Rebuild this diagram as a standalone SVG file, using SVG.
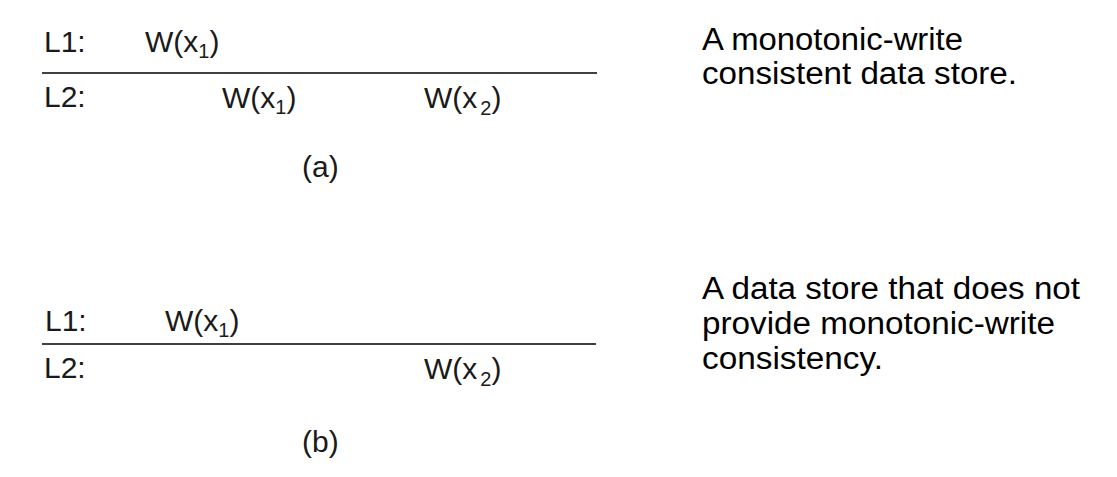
<svg xmlns="http://www.w3.org/2000/svg" width="1117" height="477" viewBox="0 0 1117 477">
<style>
.t{font-family:"Liberation Sans",Arial,sans-serif;font-size:30px;fill:#1a1a1a}
.s{font-size:20px}
.d{font-family:"Liberation Sans",Arial,sans-serif;font-size:31px;fill:#000}
.ln{stroke:#000;stroke-width:1.3}
</style>
<rect width="1117" height="477" fill="#fff"/>
<g id="connectors">
<line class="ln" x1="42" y1="73" x2="597" y2="73"/>
<line class="ln" x1="42" y1="344" x2="596" y2="344"/>
</g>
<g id="a-L1"><text class="t" x="44" y="52">L1:</text></g>
<g id="a-L1-w1"><text class="t" x="145" y="52">W(x<tspan class="s" dy="6">1</tspan><tspan dy="-6">)</tspan></text></g>
<g id="a-L2"><text class="t" x="44" y="107">L2:</text></g>
<g id="a-L2-w1"><text class="t" x="222" y="108">W(x<tspan class="s" dy="6">1</tspan><tspan dy="-6">)</tspan></text></g>
<g id="a-L2-w2"><text class="t" x="424" y="108">W(x<tspan class="s" dx="3" dy="7">2</tspan><tspan dy="-7">)</tspan></text></g>
<g id="a-label"><text class="t" x="302" y="177">(a)</text></g>
<g id="a-desc"><text class="d" x="702" y="50" textLength="261" lengthAdjust="spacingAndGlyphs">A monotonic-write</text><text class="d" x="702" y="84" textLength="315" lengthAdjust="spacingAndGlyphs">consistent data store.</text></g>
<g id="b-L1"><text class="t" x="45" y="331">L1:</text></g>
<g id="b-L1-w1"><text class="t" x="165" y="331">W(x<tspan class="s" dy="6">1</tspan><tspan dy="-6">)</tspan></text></g>
<g id="b-L2"><text class="t" x="44" y="378">L2:</text></g>
<g id="b-L2-w2"><text class="t" x="424" y="379">W(x<tspan class="s" dx="3" dy="7">2</tspan><tspan dy="-7">)</tspan></text></g>
<g id="b-label"><text class="t" x="302" y="452">(b)</text></g>
<g id="b-desc"><text class="d" x="702" y="299" textLength="378" lengthAdjust="spacingAndGlyphs">A data store that does not</text><text class="d" x="702" y="334" textLength="353" lengthAdjust="spacingAndGlyphs">provide monotonic-write</text><text class="d" x="702" y="369" textLength="181" lengthAdjust="spacingAndGlyphs">consistency.</text></g>
</svg>
